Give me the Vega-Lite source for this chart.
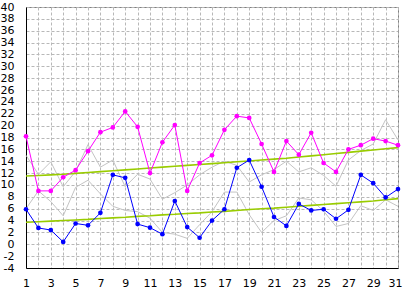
{
  "$schema": "https://vega.github.io/schema/vega-lite/v6.json",
  "width": 372,
  "height": 261,
  "autosize": {"type": "none"},
  "padding": {"left": 26, "top": 7, "right": 5, "bottom": 20},
  "background": "white",
  "config": {
    "view": {"stroke": "#808080", "strokeWidth": 1},
    "axis": {"labelFont": "DejaVu Sans", "labelFontSize": 11, "labelColor": "black"}
  },
  "data": {
    "values": [
      {"day": 1, "hi": 18.2, "lo": 5.9, "ga": 15.0, "gb": 6.0, "nh": 11.5, "nl": 3.7},
      {"day": 2, "hi": 9.0, "lo": 2.75, "ga": 11.8, "gb": 9.0, "nh": 11.6, "nl": 3.8},
      {"day": 3, "hi": 9.0, "lo": 2.4, "ga": 13.9, "gb": 7.2, "nh": 11.7, "nl": 3.9},
      {"day": 4, "hi": 11.3, "lo": 0.4, "ga": 9.7, "gb": 4.8, "nh": 11.8, "nl": 4.0},
      {"day": 5, "hi": 12.5, "lo": 3.5, "ga": 12.3, "gb": 9.6, "nh": 11.95, "nl": 4.1},
      {"day": 6, "hi": 15.7, "lo": 3.2, "ga": 16.8, "gb": 10.8, "nh": 12.1, "nl": 4.2},
      {"day": 7, "hi": 18.9, "lo": 5.3, "ga": 13.0, "gb": 8.5, "nh": 12.25, "nl": 4.35},
      {"day": 8, "hi": 19.7, "lo": 11.7, "ga": 14.2, "gb": 6.4, "nh": 12.4, "nl": 4.45},
      {"day": 9, "hi": 22.4, "lo": 11.2, "ga": 9.7, "gb": 5.7, "nh": 12.55, "nl": 4.55},
      {"day": 10, "hi": 19.8, "lo": 3.4, "ga": 11.8, "gb": 5.5, "nh": 12.7, "nl": 4.7},
      {"day": 11, "hi": 12.0, "lo": 2.8, "ga": 11.0, "gb": 4.4, "nh": 12.85, "nl": 4.8},
      {"day": 12, "hi": 17.2, "lo": 1.7, "ga": 7.6, "gb": 2.0, "nh": 13.0, "nl": 4.95},
      {"day": 13, "hi": 20.1, "lo": 7.3, "ga": 8.7, "gb": 1.7, "nh": 13.15, "nl": 5.05},
      {"day": 14, "hi": 9.0, "lo": 2.9, "ga": 10.0, "gb": 1.0, "nh": 13.3, "nl": 5.2},
      {"day": 15, "hi": 13.7, "lo": 1.1, "ga": 11.7, "gb": 3.3, "nh": 13.45, "nl": 5.3},
      {"day": 16, "hi": 15.0, "lo": 4.0, "ga": 13.0, "gb": 5.5, "nh": 13.6, "nl": 5.45},
      {"day": 17, "hi": 19.3, "lo": 5.9, "ga": 14.0, "gb": 8.8, "nh": 13.75, "nl": 5.55},
      {"day": 18, "hi": 21.6, "lo": 12.9, "ga": 13.3, "gb": 8.8, "nh": 13.9, "nl": 5.7},
      {"day": 19, "hi": 21.3, "lo": 14.2, "ga": 10.5, "gb": 5.0, "nh": 14.05, "nl": 5.85},
      {"day": 20, "hi": 16.9, "lo": 9.7, "ga": 11.7, "gb": 2.0, "nh": 14.2, "nl": 6.0},
      {"day": 21, "hi": 12.2, "lo": 4.6, "ga": 12.6, "gb": 4.0, "nh": 14.35, "nl": 6.1},
      {"day": 22, "hi": 17.4, "lo": 3.1, "ga": 14.0, "gb": 4.8, "nh": 14.5, "nl": 6.25},
      {"day": 23, "hi": 15.1, "lo": 6.8, "ga": 12.2, "gb": 7.8, "nh": 14.7, "nl": 6.4},
      {"day": 24, "hi": 18.8, "lo": 5.7, "ga": 12.9, "gb": 7.5, "nh": 14.9, "nl": 6.55},
      {"day": 25, "hi": 13.7, "lo": 5.9, "ga": 11.6, "gb": 5.6, "nh": 15.1, "nl": 6.7},
      {"day": 26, "hi": 12.2, "lo": 4.3, "ga": 9.8, "gb": 3.0, "nh": 15.3, "nl": 6.85},
      {"day": 27, "hi": 16.0, "lo": 5.8, "ga": 14.2, "gb": 3.5, "nh": 15.5, "nl": 7.0},
      {"day": 28, "hi": 16.7, "lo": 11.7, "ga": 15.8, "gb": 6.5, "nh": 15.7, "nl": 7.15},
      {"day": 29, "hi": 17.8, "lo": 10.3, "ga": 16.9, "gb": 5.7, "nh": 15.9, "nl": 7.3},
      {"day": 30, "hi": 17.4, "lo": 7.9, "ga": 21.0, "gb": 7.5, "nh": 16.1, "nl": 7.5},
      {"day": 31, "hi": 16.7, "lo": 9.3, "ga": 17.6, "gb": 6.4, "nh": 16.3, "nl": 7.7}
    ]
  },
  "transform": [{"fold": ["hi", "lo", "ga", "gb", "nh", "nl"], "as": ["s", "v"]}],
  "encoding": {
    "x": {
      "field": "day",
      "type": "quantitative",
      "scale": {"domain": [1, 31], "nice": false, "zero": false},
      "axis": {
        "title": null,
        "values": [1,2,3,4,5,6,7,8,9,10,11,12,13,14,15,16,17,18,19,20,21,22,23,24,25,26,27,28,29,30,31],
        "labelExpr": "datum.value % 2 == 1 ? datum.label : ''",
        "labelAlign": {"condition": {"test": "datum.value == 31", "value": "right"}, "value": "center"},
        "labelOffset": {"condition": {"test": "datum.value == 31", "value": 4}, "value": 0},
        "labelOverlap": false,
        "grid": true,
        "gridColor": "#b8b8b8",
        "gridDash": [3, 2],
        "gridWidth": 1,
        "ticks": false,
        "domainColor": "black",
        "domainWidth": 1,
        "labelPadding": 9,
        "labelFlush": false
      }
    },
    "y": {
      "field": "v",
      "type": "quantitative",
      "scale": {"domain": [-4, 40], "nice": false, "zero": false},
      "axis": {
        "title": null,
        "values": [-4,-2,0,2,4,6,8,10,12,14,16,18,20,22,24,26,28,30,32,34,36,38,40],
        "labelExpr": "(datum.value < 0 ? '-' : '') + abs(datum.value)",
        "labelOverlap": false,
        "grid": true,
        "gridColor": "#b8b8b8",
        "gridDash": [3, 2],
        "gridWidth": 1,
        "ticks": false,
        "domainColor": "black",
        "domainWidth": 1,
        "labelPadding": 12,
        "labelFlush": false
      }
    }
  },
  "layer": [
    {
      "transform": [{"filter": "datum.s == 'ga'"}],
      "mark": {"type": "line", "color": "#c4c4c4", "strokeWidth": 1}
    },
    {
      "transform": [{"filter": "datum.s == 'gb'"}],
      "mark": {"type": "line", "color": "#c4c4c4", "strokeWidth": 1}
    },
    {
      "transform": [{"filter": "datum.s == 'nh'"}],
      "mark": {"type": "line", "color": "#99cc00", "strokeWidth": 1.6}
    },
    {
      "transform": [{"filter": "datum.s == 'nl'"}],
      "mark": {"type": "line", "color": "#99cc00", "strokeWidth": 1.6}
    },
    {
      "transform": [{"filter": "datum.s == 'lo'"}],
      "mark": {"type": "line", "color": "#0000ff", "strokeWidth": 1, "point": {"filled": true, "size": 22, "color": "#0000ff"}}
    },
    {
      "transform": [{"filter": "datum.s == 'hi'"}],
      "mark": {"type": "line", "color": "#ff00ff", "strokeWidth": 1, "point": {"filled": true, "size": 22, "color": "#ff00ff"}}
    }
  ]
}
